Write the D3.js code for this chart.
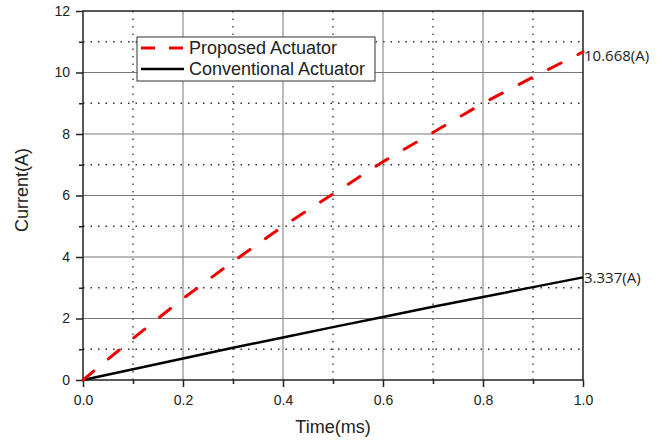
<!DOCTYPE html>
<html>
<head>
<meta charset="utf-8">
<script src="https://cdn.jsdelivr.net/npm/d3@7"></script>
<style>
  body { margin: 0; background: #fff; }
  svg { font-family: "Liberation Sans", Arial, sans-serif; }
</style>
</head>
<body>
<svg id="chart" width="672" height="444"></svg>
<script>
// time in ms
const timeMs = [0, 0.1, 0.2, 0.3, 0.4, 0.5, 0.6, 0.7, 0.8, 0.9, 1.0];
// current (A)
const proposed = [0, 1.35, 2.65, 3.85, 5.0, 6.05, 7.1, 8.05, 9.0, 9.85, 10.668];
const conventional = [0, 0.35, 0.7, 1.05, 1.38, 1.72, 2.05, 2.38, 2.7, 3.02, 3.337];
const seriesNames = ["Proposed Actuator", "Conventional Actuator"];
const endLabels = ["10.668(A)", "3.337(A)"];
const xTicks = [0, 0.2, 0.4, 0.6, 0.8, 1.0];
const yTicks = [0, 2, 4, 6, 8, 10, 12];

const margin = { left: 83, right: 89, top: 11, bottom: 64 };
const width = 672, height = 444;

const svg = d3.select("#chart");
const x = d3.scaleLinear().domain([0, 1]).range([margin.left, width - margin.right]);
const y = d3.scaleLinear().domain([0, 12]).range([height - margin.bottom, margin.top]);

// minor dotted grid
const minorX = d3.range(0.1, 1, 0.2);
const minorY = d3.range(1, 12, 2);
svg.append("g").selectAll("line").data(minorX).enter().append("line")
    .attr("x1", d => x(d)).attr("x2", d => x(d))
    .attr("y1", y(0)).attr("y2", y(12))
    .attr("stroke", "#333").attr("stroke-width", 1.3).attr("stroke-dasharray", "1.5,6");
svg.append("g").selectAll("line").data(minorY).enter().append("line")
    .attr("x1", x(0)).attr("x2", x(1))
    .attr("y1", d => y(d)).attr("y2", d => y(d))
    .attr("stroke", "#333").attr("stroke-width", 1.3).attr("stroke-dasharray", "1.5,6");

// major grid
svg.append("g").selectAll("line").data(xTicks.slice(1, -1)).enter().append("line")
    .attr("x1", d => x(d)).attr("x2", d => x(d))
    .attr("y1", y(0)).attr("y2", y(12))
    .attr("stroke", "#777").attr("stroke-width", 1);
svg.append("g").selectAll("line").data(yTicks.slice(1, -1)).enter().append("line")
    .attr("x1", x(0)).attr("x2", x(1))
    .attr("y1", d => y(d)).attr("y2", d => y(d))
    .attr("stroke", "#777").attr("stroke-width", 1);

// frame
svg.append("rect")
    .attr("x", x(0)).attr("y", y(12))
    .attr("width", x(1) - x(0)).attr("height", y(0) - y(12))
    .attr("fill", "none").attr("stroke", "#222").attr("stroke-width", 1.5);

// axes
svg.append("g").attr("transform", `translate(0,${y(0)})`)
    .call(d3.axisBottom(x).tickValues(xTicks).tickFormat(d3.format(".1f")).tickSize(7).tickPadding(8));
svg.append("g").attr("transform", `translate(0,${y(0)})`)
    .call(d3.axisBottom(x).tickValues(minorX).tickFormat("").tickSize(4));
svg.append("g").attr("transform", `translate(${x(0)},0)`)
    .call(d3.axisLeft(y).tickValues(yTicks).tickSize(7).tickPadding(6));
svg.append("g").attr("transform", `translate(${x(0)},0)`)
    .call(d3.axisLeft(y).tickValues(minorY).tickFormat("").tickSize(4));
svg.selectAll(".domain").remove();
svg.selectAll(".tick line").attr("stroke", "#222").attr("stroke-width", 1.5);
svg.selectAll(".tick text").attr("font-size", 14).attr("fill", "#222")
    .attr("font-family", "Liberation Sans, Arial, sans-serif");

// axis titles
svg.append("text").attr("x", (x(0) + x(1)) / 2).attr("y", 433)
    .attr("text-anchor", "middle").attr("font-size", 18).attr("fill", "#222").text("Time(ms)");
svg.append("text").attr("transform", `translate(28,190) rotate(-90)`)
    .attr("text-anchor", "middle").attr("font-size", 18).attr("fill", "#222").text("Current(A)");

// lines
const line = d3.line().x((d, i) => x(timeMs[i])).y(d => y(d));
svg.append("path").datum(conventional).attr("d", line)
    .attr("fill", "none").attr("stroke", "#000").attr("stroke-width", 2.5);
svg.append("path").datum(proposed).attr("d", line)
    .attr("fill", "none").attr("stroke", "#ee0000").attr("stroke-width", 3)
    .attr("stroke-linecap", "round")
    .attr("stroke-dasharray", "14,19");

// end labels
const ends = [proposed[proposed.length - 1], conventional[conventional.length - 1]];
svg.selectAll(".end").data(ends).enter().append("text")
    .attr("x", x(1) + 1).attr("y", (d, i) => y(d) + (i === 0 ? 9 : 6))
    .attr("font-size", 15).attr("fill", "#222")
    .attr("font-family", "'Open Sans', 'DejaVu Sans', sans-serif")
    .text((d, i) => endLabels[i]);

// legend
const lg = svg.append("g").attr("transform", "translate(137,37)");
lg.append("rect").attr("width", 238).attr("height", 44)
    .attr("fill", "#fff").attr("stroke", "#333").attr("stroke-width", 1);
const styles = [
    { stroke: "#ee0000", w: 3, dash: "14,14" },
    { stroke: "#000", w: 2.5, dash: null }
];
seriesNames.forEach((name, i) => {
    const yy = 11 + i * 21;
    lg.append("line").attr("x1", 4).attr("x2", 47).attr("y1", yy).attr("y2", yy)
        .attr("stroke", styles[i].stroke).attr("stroke-width", styles[i].w)
        .attr("stroke-dasharray", styles[i].dash);
    lg.append("text").attr("x", 52).attr("y", yy + 6)
        .attr("font-size", 18).attr("fill", "#222").text(name);
});
</script>
</body>
</html>
